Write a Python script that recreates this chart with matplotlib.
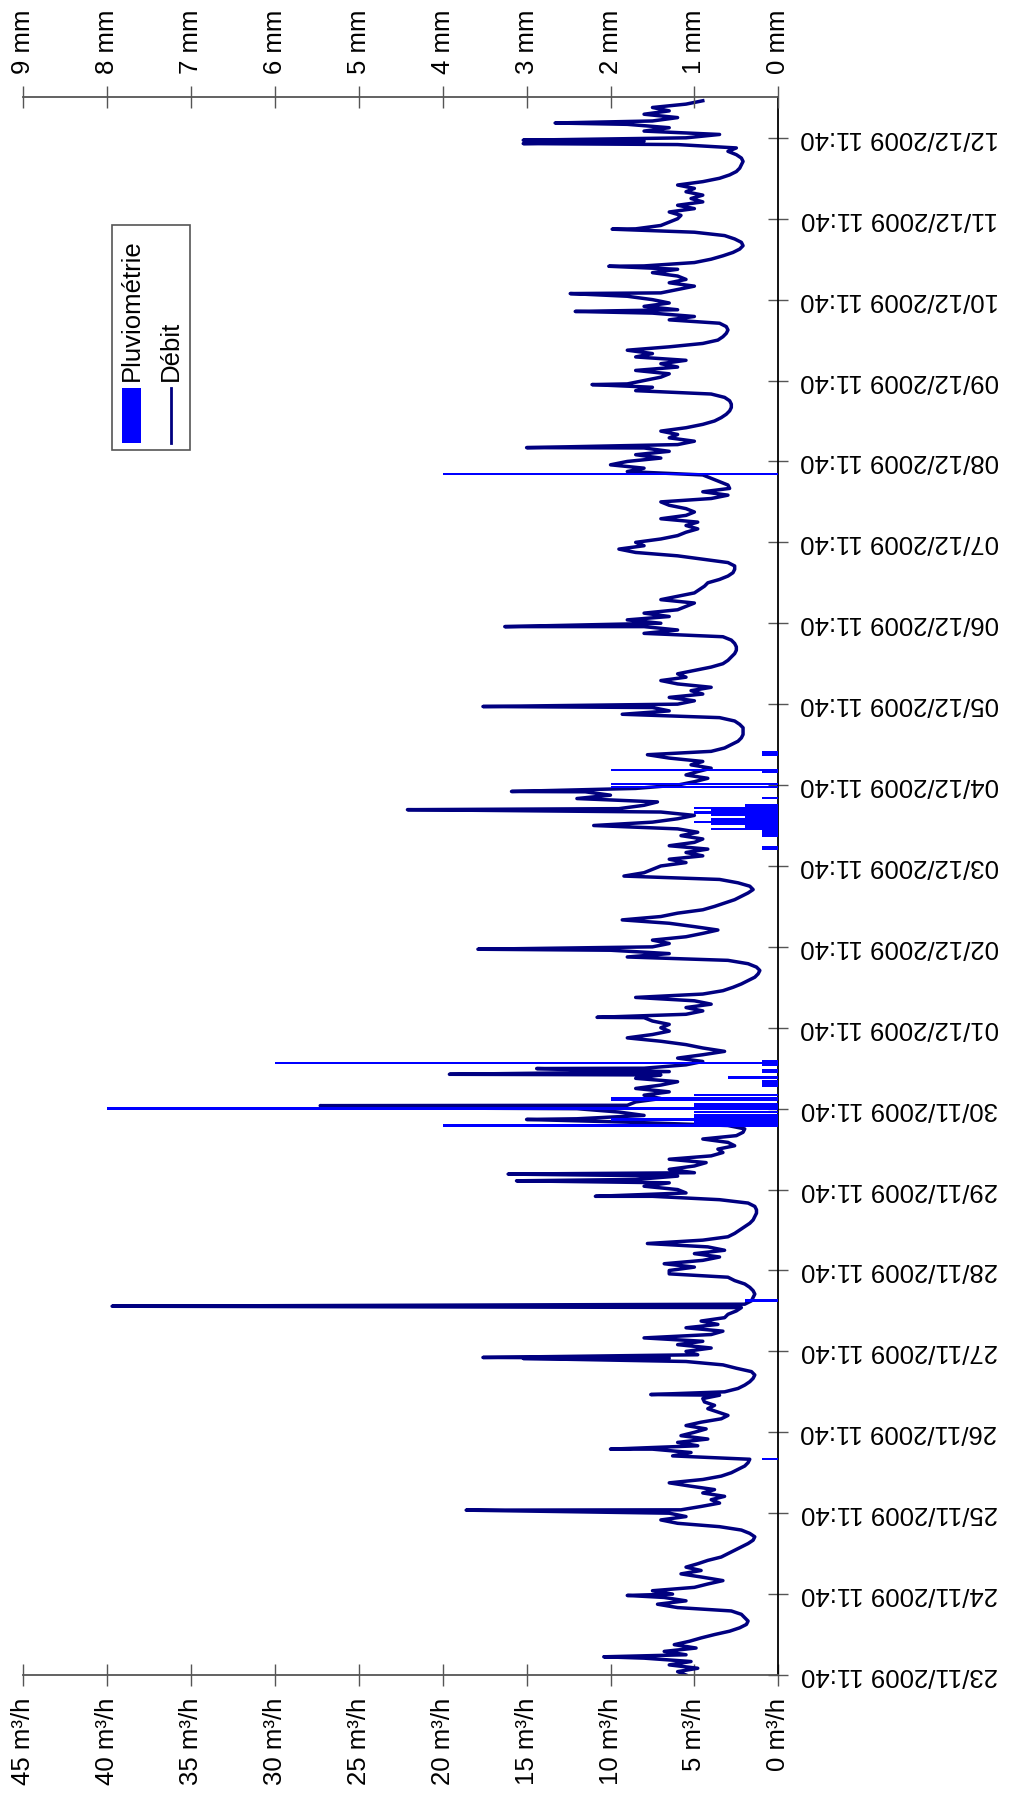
import numpy as np
import matplotlib
matplotlib.use("Agg")
import matplotlib.pyplot as plt
import matplotlib.dates as mdates
from matplotlib.patches import Rectangle
from matplotlib.lines import Line2D
from datetime import datetime, timedelta

plt.rcParams['font.family'] = ['Liberation Sans', 'DejaVu Sans']

# ---------------- data ----------------
START = datetime(2009, 11, 23, 11, 40)
tick_dates = [START + timedelta(days=k) for k in range(20)]
END_HOURS = 468.2

# hourly flow (m3/h), one list per day starting at 11:40
flow_d00 = [5.5, 6.0, 4.8, 6.5, 5.2, 8.0, 5.5, 6.8, 4.9, 6.2, 5.3, 4.6, 3.8, 2.9, 2.3, 1.9, 1.8, 2.0, 2.2, 2.8, 6.0, 7.2, 5.5, 6.8]
flow_d01 = [6.3, 7.5, 5.0, 4.2, 3.3, 4.5, 5.8, 4.6, 5.5, 4.8, 4.2, 3.4, 3.0, 2.6, 2.2, 1.8, 1.5, 1.4, 1.7, 2.2, 3.5, 6.0, 7.0, 5.5]
flow_d02 = [6.5, 5.8, 4.6, 3.5, 4.0, 3.2, 4.5, 3.8, 5.2, 6.5, 4.5, 3.4, 2.8, 2.4, 2.0, 1.8, 1.7, 6.3, 5.2, 7.5, 4.8, 6.0, 4.2, 5.8]
flow_d03 = [5.0, 4.3, 5.5, 4.6, 3.4, 3.0, 3.6, 4.2, 3.8, 4.4, 4.5, 3.5, 3.2, 2.4, 2.0, 1.7, 1.5, 1.4, 1.6, 2.5, 3.3, 5.5, 6.5, 4.8]
flow_d04 = [5.5, 4.0, 6.0, 4.5, 8.0, 4.0, 3.3, 5.5, 3.6, 4.6, 3.2, 3.0, 2.5, 2.2, 2.0, 1.6, 1.5, 1.4, 1.5, 1.7, 2.0, 2.6, 3.0, 6.5]
flow_d05 = [6.5, 5.0, 6.8, 4.5, 3.5, 5.0, 3.2, 4.2, 7.8, 4.5, 3.0, 2.6, 2.3, 2.0, 1.7, 1.5, 1.4, 1.3, 1.3, 1.4, 1.8, 3.5, 7.5, 5.5]
flow_d06 = [6.0, 8.0, 6.5, 8.5, 6.0, 5.0, 6.5, 5.0, 4.3, 6.5, 4.0, 3.3, 3.6, 2.6, 3.0, 4.5, 2.5, 2.1, 2.0, 3.0, 9.0, 12.0, 8.0, 9.5]
flow_d07 = [12.0, 9.0, 8.5, 7.0, 8.0, 6.5, 8.5, 7.0, 6.0, 8.5, 7.0, 6.5, 8.0, 5.5, 4.5, 6.0, 4.5, 3.2, 4.5, 5.5, 7.0, 9.0, 7.5, 6.5]
flow_d08 = [7.0, 6.5, 7.5, 8.0, 5.5, 4.5, 5.5, 4.0, 5.0, 8.5, 4.5, 3.3, 2.7, 2.2, 1.8, 1.4, 1.2, 1.1, 1.3, 1.8, 3.0, 9.0, 6.5, 10.0]
flow_d09 = [7.5, 6.5, 7.5, 5.5, 4.5, 3.6, 5.0, 6.5, 9.3, 7.0, 6.0, 4.5, 3.8, 3.2, 2.6, 2.2, 1.8, 1.5, 1.7, 2.4, 3.5, 9.2, 8.0, 7.5]
flow_d10 = [7.0, 5.5, 6.5, 4.5, 5.5, 4.2, 6.5, 5.0, 4.5, 5.8, 4.8, 6.0, 11.0, 7.5, 6.0, 5.0, 7.0, 9.5, 8.0, 7.2, 12.0, 10.0, 11.5, 8.5]
flow_d11 = [6.0, 5.0, 4.2, 5.5, 4.8, 4.0, 5.2, 4.5, 6.5, 7.8, 4.0, 3.2, 2.8, 2.4, 2.2, 2.1, 2.1, 2.1, 2.3, 2.6, 3.5, 9.3, 6.5, 7.5]
flow_d12 = [6.0, 5.0, 6.5, 4.5, 5.2, 4.0, 6.0, 7.0, 5.5, 6.0, 5.0, 4.0, 3.3, 3.0, 2.8, 2.6, 2.5, 2.5, 2.6, 2.8, 3.3, 8.0, 6.0, 8.0]
flow_d13 = [7.0, 9.0, 6.5, 8.0, 6.0, 5.5, 5.0, 7.0, 6.0, 5.0, 4.7, 4.4, 4.2, 3.5, 3.0, 2.7, 2.6, 2.6, 3.0, 4.5, 6.0, 8.5, 9.5, 8.0]
flow_d14 = [8.5, 7.0, 6.0, 5.5, 4.8, 5.5, 4.8, 7.0, 5.5, 5.0, 5.5, 6.5, 7.0, 4.0, 3.0, 4.5, 2.9, 3.0, 3.5, 4.0, 4.5, 9.0, 8.0, 10.0]
flow_d15 = [9.0, 7.0, 8.5, 6.5, 8.0, 6.0, 5.0, 6.5, 6.0, 7.0, 5.5, 4.5, 3.8, 3.4, 3.1, 2.9, 2.8, 2.8, 2.9, 3.2, 4.0, 8.5, 7.5, 9.0]
flow_d16 = [8.0, 7.0, 6.5, 8.5, 6.0, 7.0, 5.5, 8.5, 7.5, 9.0, 6.5, 4.5, 3.6, 3.3, 3.1, 3.0, 3.1, 3.5, 6.5, 5.0, 7.5, 6.0, 8.0, 6.5]
flow_d17 = [7.5, 9.0, 7.0, 6.0, 5.0, 6.5, 5.5, 6.0, 7.5, 6.0, 8.0, 5.0, 4.0, 3.3, 2.7, 2.3, 2.1, 2.2, 2.6, 3.2, 5.0, 8.5, 7.0, 6.5]
flow_d18 = [6.0, 5.8, 6.5, 5.0, 6.0, 4.5, 5.2, 4.5, 5.5, 5.0, 6.0, 4.5, 3.5, 2.9, 2.5, 2.3, 2.2, 2.1, 2.2, 2.5, 3.0, 2.5, 6.0, 8.0]
flow_d19 = [5.5, 3.5, 8.0, 6.5, 9.0, 7.5, 6.0, 8.0, 6.5, 7.5, 5.5, 4.5]

# short flow peaks (hours after start, m3/h)
spike_hours = [5.4, 23.6, 48.9, 67.0, 83.2, 93.9, 94.2, 109.4, 142.0, 146.6, 148.6,
               164.8, 168.3, 168.9, 178.2, 179.9, 195.1, 215.3, 256.7, 262.1, 287.3, 311.0,
               364.1, 382.8, 404.5, 409.8, 417.9, 428.9, 454.3, 455.3, 460.4]
spike_values = [10.4, 9.0, 18.6, 10.0, 7.6, 15.2, 17.6, 39.7, 10.9, 15.6, 16.1,
                15.0, 25.6, 27.3, 19.6, 14.4, 10.8, 17.9, 22.1, 15.9, 17.6, 16.3,
                15.0, 11.1, 12.1, 12.4, 10.1, 9.9, 15.2, 15.2, 13.3]

# rainfall (hours after start, mm)
rain_hours = [64.0, 111.1,
              163.0, 163.6, 164.2, 164.8, 165.5, 166.2, 167.0, 168.0, 168.6, 169.4, 170.5,
              171.2, 172.0, 174.9, 175.5, 176.2, 177.3, 178.8, 179.5, 181.0, 181.5, 182.0,
              245.0, 245.7, 248.9, 249.6, 250.3, 251.0, 251.7, 252.4, 253.1, 253.8, 254.5,
              255.2, 255.9, 256.6, 257.2, 257.9, 260.1, 263.4, 264.3, 267.9, 268.4, 273.1,
              273.8, 356.2]
rain_mm = [0.2, 0.4,
           4.0, 1.0, 1.0, 2.0, 1.0, 1.0, 1.0, 8.0, 1.0, 1.0, 2.0,
           2.0, 1.0, 0.2, 0.2, 0.2, 0.6, 0.2, 0.2, 0.2, 6.0, 0.2,
           0.2, 0.2, 0.2, 0.2, 0.2, 0.8, 0.4, 0.8, 1.0, 0.8, 0.4,
           0.8, 1.0, 0.8, 1.0, 0.4, 0.2, 2.0, 2.0, 0.2, 2.0, 0.2,
           0.2, 4.0]

flow_ticks = [0, 5, 10, 15, 20, 25, 30, 35, 40, 45]
rain_ticks = [0, 1, 2, 3, 4, 5, 6, 7, 8, 9]

# ---------------- build series ----------------
flow_days = [flow_d00, flow_d01, flow_d02, flow_d03, flow_d04, flow_d05, flow_d06, flow_d07,
             flow_d08, flow_d09, flow_d10, flow_d11, flow_d12, flow_d13, flow_d14, flow_d15,
             flow_d16, flow_d17, flow_d18, flow_d19]
base_vals = np.concatenate([np.array(d, float) for d in flow_days])
base_hours = np.arange(len(base_vals), dtype=float)
all_hours = np.concatenate([base_hours, np.array(spike_hours)])
all_vals = np.concatenate([base_vals, np.array(spike_values)])
order = np.argsort(all_hours, kind='stable')
all_hours = all_hours[order]
all_vals = all_vals[order]

t0 = mdates.date2num(START)
flow_y = t0 + all_hours / 24.0
rain_y = t0 + np.array(rain_hours) / 24.0

# ---------------- figure ----------------
W, H = 1014, 1793
FS = 18.5
fig = plt.figure(figsize=(W / 100, H / 100), dpi=100)
x_left, x_right = 23.2, 778.3
y_top, y_bot = 96.7, 1675.0
ax = fig.add_axes([x_left / W, 1 - y_bot / H, (x_right - x_left) / W, (y_bot - y_top) / H])

ax.plot(all_vals, flow_y, color='#000080', lw=2.5, solid_joinstyle='round', zorder=2)
ax.set_xlim(45, 0)
ax.set_ylim(t0, t0 + END_HOURS / 24.0)

ax.set_xticks(flow_ticks)
ax.set_xticklabels([f'{v} m³/h' for v in flow_ticks], rotation=90, va='top', ha='center')
ax.tick_params(axis='x', direction='inout', length=16, width=1.0, color='#555555',
               labelsize=FS, pad=8.5)

ax.yaxis.tick_right()
ax.set_yticks([mdates.date2num(d) for d in tick_dates])
ax.set_yticklabels([d.strftime('%d/%m/%Y %H:%M') for d in tick_dates],
                   rotation=180, va='center', ha='left')
ax.tick_params(axis='y', direction='inout', length=15, width=1.0, color='#555555',
               labelsize=FS, pad=8.5)

ax.spines['left'].set_visible(False)
ax.spines['top'].set_visible(False)
ax.spines['right'].set_color('black')
ax.spines['right'].set_linewidth(1.3)
ax.spines['bottom'].set_color('#555555')
ax.spines['bottom'].set_linewidth(1.3)

ax2 = ax.twiny()
ax2.barh(rain_y, rain_mm, height=0.7 / 24.0, color='#0000FF', linewidth=0, zorder=3)
ax2.set_xlim(9, 0)
ax2.set_ylim(t0, t0 + END_HOURS / 24.0)
ax2.set_xticks(rain_ticks)
ax2.set_xticklabels([f'{v} mm' for v in rain_ticks], rotation=90, va='bottom', ha='center')
ax2.tick_params(axis='x', direction='inout', length=16, width=1.0, color='#555555',
                labelsize=FS, pad=8.5)
for s in ['left', 'right', 'bottom']:
    ax2.spines[s].set_visible(False)
ax2.spines['top'].set_color('#555555')
ax2.spines['top'].set_linewidth(1.3)

# ---------------- legend (rotated, drawn by hand) ----------------
def fx(px):
    return px / W

def fy(py):
    return 1 - py / H

fig.patches.append(Rectangle((fx(111.7), fy(450)), fx(190) - fx(111.7), fy(225) - fy(450),
                             transform=fig.transFigure, facecolor='white',
                             edgecolor='#555555', linewidth=1.2, zorder=5))
fig.patches.append(Rectangle((fx(122), fy(443)), fx(141) - fx(122), fy(388) - fy(443),
                             transform=fig.transFigure, facecolor='#0000FF',
                             edgecolor='none', zorder=6))
fig.lines.append(Line2D([fx(171), fx(171)], [fy(443), fy(388)], transform=fig.transFigure,
                        color='#000080', lw=2.0, zorder=6))
fig.text(fx(131.5), fy(381), 'Pluviométrie', rotation=90, ha='center', va='bottom',
         fontsize=FS, zorder=7)
fig.text(fx(170.5), fy(381), 'Débit', rotation=90, ha='center', va='bottom',
         fontsize=FS, zorder=7)

fig.savefig('out.png', dpi=100)
